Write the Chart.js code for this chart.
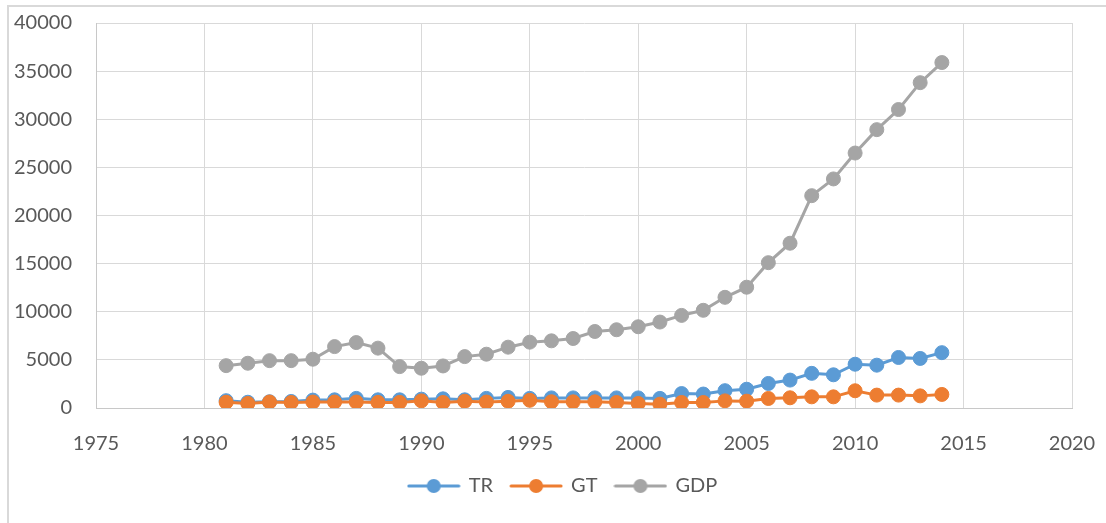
<!DOCTYPE html>
<html>
<head>
<meta charset="utf-8">
<script src="https://cdn.jsdelivr.net/npm/chart.js@4/dist/chart.umd.min.js"></script>
<style>
  html, body { margin: 0; padding: 0; background: #ffffff; }
  #wrap { position: relative; width: 1106px; height: 523px; overflow: hidden; }
  #frame { position: absolute; left: 7px; top: 5px; width: 1200px; height: 600px;
           border-left: 2px solid #d9d9d9; border-top: 2px solid #d9d9d9; }
  canvas { position: absolute; left: 0; top: 0; }
</style>
</head>
<body>
<div id="wrap">
  <div id="frame"></div>
  <canvas id="c" width="1106" height="523"></canvas>
</div>
<script>
const years = [1981, 1982, 1983, 1984, 1985, 1986, 1987, 1988, 1989, 1990,
               1991, 1992, 1993, 1994, 1995, 1996, 1997, 1998, 1999, 2000,
               2001, 2002, 2003, 2004, 2005, 2006, 2007, 2008, 2009, 2010,
               2011, 2012, 2013, 2014];
const trValues = [760, 600, 650, 680, 820, 850, 1000, 850, 850, 920,
                  950, 850, 1000, 1100, 1000, 1050, 1050, 1050, 1050, 1050,
                  1000, 1500, 1450, 1800, 1950, 2550, 2900, 3600, 3450, 4550,
                  4450, 5250, 5150, 5750];
const gtValues = [600, 470, 620, 570, 620, 620, 620, 580, 580, 740,
                  570, 700, 620, 700, 800, 650, 640, 640, 570, 470,
                  400, 570, 570, 740, 710, 990, 1060, 1160, 1160, 1790,
                  1340, 1340, 1260, 1410];
const gdpValues = [4400, 4650, 4920, 4920, 5070, 6380, 6800, 6220, 4300, 4130,
                   4370, 5340, 5590, 6320, 6840, 6980, 7220, 7950, 8130, 8440,
                   8930, 9620, 10150, 11500, 12550, 15100, 17120, 22060, 23800, 26490,
                   28920, 31010, 33800, 35890];
const seriesNames = ['TR', 'GT', 'GDP'];
const xTicks = [1975, 1980, 1985, 1990, 1995, 2000, 2005, 2010, 2015, 2020];
const yTicks = [0, 5000, 10000, 15000, 20000, 25000, 30000, 35000, 40000];

const colors = ['#5B9BD5', '#ED7D31', '#A5A5A5'];
const textColor = '#595959';
const fontFamily = 'Lato, "Open Sans", sans-serif';

function legendMarker(color) {
  const w = 54, h = 16;
  const cv = document.createElement('canvas');
  cv.width = w; cv.height = h;
  const g = cv.getContext('2d');
  g.strokeStyle = color; g.lineWidth = 3; g.lineCap = 'round';
  g.beginPath(); g.moveTo(2, h / 2); g.lineTo(w - 2, h / 2); g.stroke();
  g.fillStyle = color;
  g.beginPath(); g.arc(w / 2, h / 2, 7, 0, Math.PI * 2); g.fill();
  return cv;
}

const seriesValues = [trValues, gtValues, gdpValues];
const datasets = seriesNames.map((name, i) => ({
  label: name,
  data: years.map((yr, k) => ({ x: yr, y: seriesValues[i][k] })),
  borderColor: colors[i],
  backgroundColor: colors[i],
  pointBackgroundColor: colors[i],
  pointBorderColor: colors[i],
  borderWidth: 3,
  pointRadius: 7,
  pointBorderWidth: 1,
  pointHoverRadius: 7,
  tension: 0,
  order: 3 - i,
  pointStyle: 'circle'
}));

const legendShift = {
  id: 'legendShift',
  afterLayout(ch) {
    const lg = ch.legend;
    if (lg) { lg.left += 27; lg.right += 27; }
  }
};

const chart = new Chart(document.getElementById('c'), {
  type: 'line',
  data: { datasets },
  plugins: [legendShift],
  options: {
    responsive: false,
    animation: false,
    devicePixelRatio: 1,
    layout: { padding: { left: 0, right: 34, top: 23, bottom: 17 } },
    scales: {
      x: {
        type: 'linear',
        min: 1975, max: 2020,
        afterBuildTicks: (s) => { s.ticks = xTicks.map(v => ({ value: v })); },
        afterFit: (s) => { s.height = 50; s.paddingLeft = 0; s.paddingRight = 0; },
        grid: { color: '#d9d9d9', lineWidth: 1, drawTicks: false },
        border: { color: '#c8c8c8', width: 1 },
        ticks: { color: textColor, font: { family: fontFamily, size: 20 }, padding: 24,
                 callback: (v) => String(v), maxRotation: 0 }
      },
      y: {
        min: 0, max: 40000,
        afterBuildTicks: (s) => { s.ticks = yTicks.map(v => ({ value: v })); },
        afterFit: (s) => { s.width = 96; s.paddingTop = 0; s.paddingBottom = 0; },
        grid: { color: '#d9d9d9', lineWidth: 1, drawTicks: false },
        border: { color: '#c8c8c8', width: 1 },
        ticks: { color: textColor, font: { family: fontFamily, size: 20 }, padding: 24,
                 callback: (v) => String(v) }
      }
    },
    plugins: {
      tooltip: { enabled: false },
      legend: {
        position: 'bottom',
        labels: {
          color: textColor,
          font: { family: fontFamily, size: 20 },
          usePointStyle: true,
          pointStyleWidth: 50,
          boxHeight: 20,
          padding: 18,
          generateLabels: (ch) => ch.data.datasets.map((ds, i) => ({
            text: ds.label,
            pointStyle: legendMarker(colors[i]),
            fillStyle: colors[i],
            strokeStyle: colors[i],
            lineWidth: 0,
            fontColor: textColor,
            hidden: false,
            datasetIndex: i
          }))
        }
      }
    }
  }
});
</script>
</body>
</html>
